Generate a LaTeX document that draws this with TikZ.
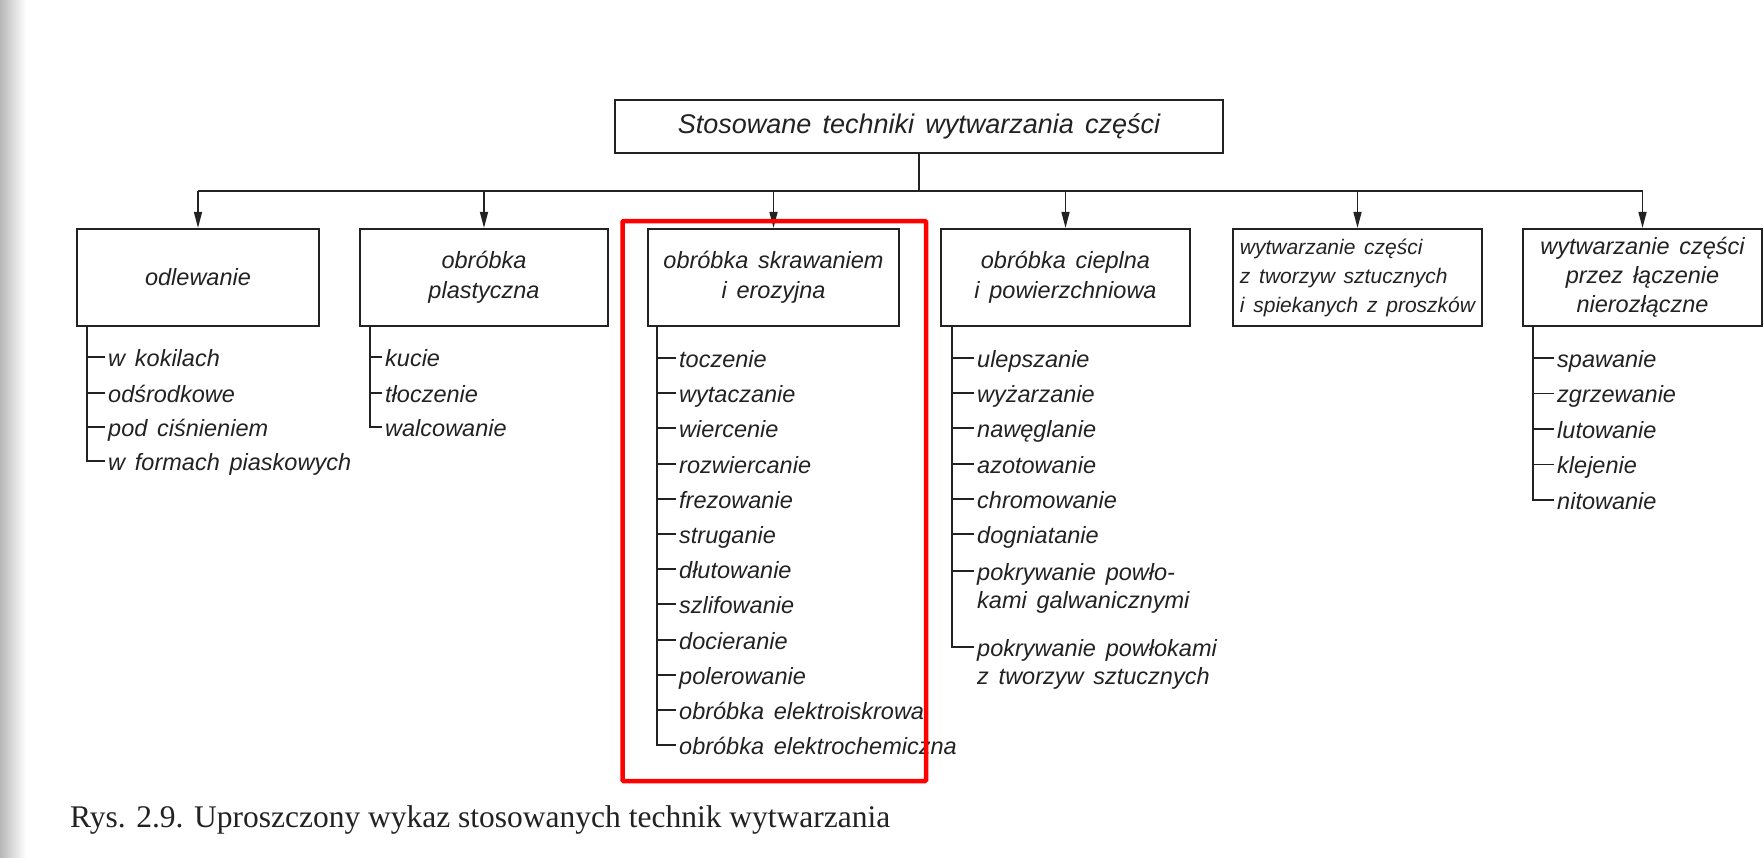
\documentclass[tikz,border=0pt]{standalone}
\usepackage{fontspec}
\setmainfont{Liberation Sans}
\newfontfamily\diag{Liberation Sans}[WordSpace=1.5]
\newfontfamily\capfont{Liberation Serif}
\usetikzlibrary{arrows.meta}
\definecolor{ink}{HTML}{222222}
\definecolor{redbox}{HTML}{FF0000}

\newcommand\mkitem[5]{%
  \node[item] (#1) at (#3,#4+9) {#5};
  \coordinate (#1t) at ([xshift=-3pt,yshift=9pt]#1.base west);
  \draw[ln] (#1t) -- (#1t -| #2);
}
\newcommand\mklast[5]{%
  \node[item] (#1) at (#3,#4+9) {#5};
  \coordinate (#1t) at ([xshift=-3pt,yshift=9pt]#1.base west);
  \draw[ln] (#2) |- (#1t);
}
\newcommand\twoline[2]{\begin{tabular}[t]{@{}l@{}}#1\\#2\end{tabular}}

\tikzset{
  ln/.style={draw=ink, line width=1.6pt},
  arr/.style={ln, -{Triangle[length=16pt,width=8pt]}},
  box/.style={draw=ink, line width=2.2pt, inner sep=2pt, align=center,
    minimum height=97pt, text=ink,
    font=\diag\itshape\fontsize{23.5}{30}\selectfont},
  item/.style={anchor=base west, inner sep=0pt, text=ink,
    font=\diag\itshape\fontsize{23.5}{28.5}\selectfont},
}

\begin{document}
\begin{tikzpicture}[x=1pt,y=-1pt]
\useasboundingbox (0,0) rectangle (1764,857);
\fill[white] (0,0) rectangle (1764,857);
\shade[left color=black!28, right color=white] (0,0) rectangle (26,857);

% top box
\node[box, minimum width=608pt, minimum height=53pt,
  font=\diag\itshape\fontsize{27}{32}\selectfont] (top) at (919,126.5)
  {Stosowane techniki wytwarzania części};

% category boxes
\node[box, minimum width=242pt] (odl) at (198,277.5) {odlewanie};
\node[box, minimum width=248pt] (pla) at (484,277.5) {obróbka\\plastyczna};
\node[box, minimum width=251pt] (skr) at (773.5,277.5) {obróbka skrawaniem\\i erozyjna};
\node[box, minimum width=249pt] (cie) at (1065.5,277.5) {obróbka cieplna\\i powierzchniowa};
\node[box, minimum width=249pt, align=left,
  font=\diag\itshape\fontsize{21}{29}\selectfont] (two) at (1357.5,277.5)
  {wytwarzanie części\\z tworzyw sztucznych\\i spiekanych z proszków};
\node[box, minimum width=239pt,
  font=\diag\itshape\fontsize{23.5}{29}\selectfont] (lac) at (1642.5,277.5)
  {wytwarzanie części\\przez łączenie\\nierozłączne};

% bus and arrows
\draw[ln] (top.south) -- ++(0,37) coordinate (hub);
\draw[ln] (odl.north |- hub) -- (lac.north |- hub);
\foreach \b in {odl,pla,skr,cie,two,lac}
  \draw[arr] (\b.north |- hub) -- (\b.north);

% odlewanie
\coordinate (tO) at ([xshift=11pt]odl.south west);
\mkitem{o1}{tO}{108}{357}{w kokilach}
\mkitem{o2}{tO}{108}{393}{odśrodkowe}
\mkitem{o3}{tO}{108}{427}{pod ciśnieniem}
\mklast{o4}{tO}{108}{461}{w formach piaskowych}

% plastyczna
\coordinate (tP) at ([xshift=11pt]pla.south west);
\mkitem{p1}{tP}{385}{357}{kucie}
\mkitem{p2}{tP}{385}{393}{tłoczenie}
\mklast{p3}{tP}{385}{427}{walcowanie}

% skrawaniem
\coordinate (tS) at ([xshift=10pt]skr.south west);
\mkitem{s1}{tS}{679}{358}{toczenie}
\mkitem{s2}{tS}{679}{393}{wytaczanie}
\mkitem{s3}{tS}{679}{428}{wiercenie}
\mkitem{s4}{tS}{679}{464}{rozwiercanie}
\mkitem{s5}{tS}{679}{499}{frezowanie}
\mkitem{s6}{tS}{679}{534}{struganie}
\mkitem{s7}{tS}{679}{569}{dłutowanie}
\mkitem{s8}{tS}{679}{604}{szlifowanie}
\mkitem{s9}{tS}{679}{640}{docieranie}
\mkitem{s10}{tS}{679}{675}{polerowanie}
\mkitem{s11}{tS}{679}{710}{obróbka elektroiskrowa}
\mklast{s12}{tS}{679}{745}{obróbka elektrochemiczna}

% cieplna
\coordinate (tC) at ([xshift=12pt]cie.south west);
\mkitem{c1}{tC}{977}{358}{ulepszanie}
\mkitem{c2}{tC}{977}{393}{wyżarzanie}
\mkitem{c3}{tC}{977}{428}{nawęglanie}
\mkitem{c4}{tC}{977}{464}{azotowanie}
\mkitem{c5}{tC}{977}{499}{chromowanie}
\mkitem{c6}{tC}{977}{534}{dogniatanie}
\mkitem{c7}{tC}{977}{571}{\twoline{pokrywanie powło-}{kami galwanicznymi}}
\mklast{c8}{tC}{977}{647}{\twoline{pokrywanie powłokami}{z tworzyw sztucznych}}

% laczenie
\coordinate (tL) at ([xshift=11pt]lac.south west);
\mkitem{l1}{tL}{1557}{358}{spawanie}
\mkitem{l2}{tL}{1557}{393.5}{zgrzewanie}
\mkitem{l3}{tL}{1557}{429}{lutowanie}
\mkitem{l4}{tL}{1557}{464.5}{klejenie}
\mklast{l5}{tL}{1557}{500}{nitowanie}

% red highlight
\draw[redbox, line width=4.5pt, rounded corners=1pt] (622.5,221) rectangle (926,781);

% caption
\node[anchor=base west, inner sep=0pt, text=ink,
  font=\capfont\fontsize{31.5}{36}\selectfont] (cap) at (70,827)
  {Rys. 2.9. Uproszczony wykaz stosowanych technik wytwarzania};
\end{tikzpicture}
\end{document}
